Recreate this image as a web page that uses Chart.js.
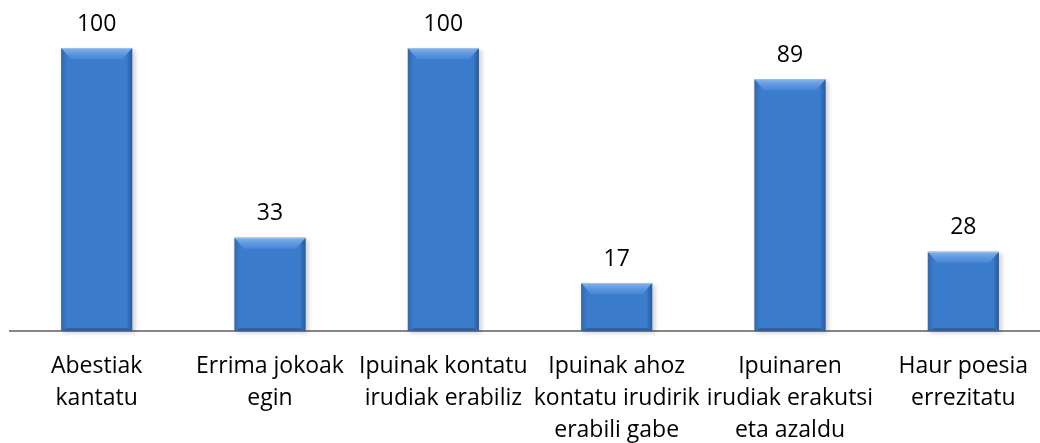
<!DOCTYPE html>
<html>
<head>
<meta charset="utf-8">
<script src="https://cdn.jsdelivr.net/npm/chart.js@4/dist/chart.umd.min.js"></script>
<style>
html,body{margin:0;padding:0;background:#fff;overflow:hidden;width:1040px;height:443px;}
#wrap{width:1050px;height:465px;}
</style>
</head>
<body>
<div id="wrap"><canvas id="c" width="1050" height="465"></canvas></div>
<script>
const categories = [
  ["Abestiak","kantatu"],
  ["Errima jokoak","egin"],
  ["Ipuinak kontatu","irudiak erabiliz"],
  ["Ipuinak ahoz","kontatu irudirik","erabili gabe"],
  ["Ipuinaren","irudiak erakutsi","eta azaldu"],
  ["Haur poesia","errezitatu"]
];
const values = [100, 33, 100, 17, 89, 28];

const FONT = "'Open Sans', 'Noto Sans', sans-serif";

const bevelPlugin = {
  id: 'bevel',
  beforeDatasetsDraw(chart) {
    const ctx = chart.ctx;
    chart.getDatasetMeta(0).data.forEach(bar => {
      const l = bar.x - bar.width/2, r = bar.x + bar.width/2;
      ctx.save();
      ctx.fillStyle = 'rgba(0,0,0,0.18)';
      ctx.filter = 'blur(2px)';
      ctx.fillRect(l + 2, bar.y + 2, r - l + 1, bar.base - bar.y);
      ctx.restore();
    });
  },
  afterDatasetsDraw(chart) {
    const ctx = chart.ctx;
    chart.getDatasetMeta(0).data.forEach(bar => {
      const l = bar.x - bar.width/2, r = bar.x + bar.width/2;
      const t = bar.y, b = bar.base;
      const bs = 6, bh = 11;
      ctx.save();
      let g = ctx.createLinearGradient(0, t, 0, t + bh);
      g.addColorStop(0, 'rgba(140,188,240,0.9)');
      g.addColorStop(1, 'rgba(85,145,225,0.5)');
      ctx.fillStyle = g;
      ctx.beginPath();
      ctx.moveTo(l, t); ctx.lineTo(r, t); ctx.lineTo(r - bs*1.6, t + bh); ctx.lineTo(l + bs*1.6, t + bh); ctx.closePath();
      ctx.fill();
      g = ctx.createLinearGradient(l, 0, l + bs, 0);
      g.addColorStop(0, 'rgba(40,85,150,0.55)');
      g.addColorStop(1, 'rgba(40,85,150,0)');
      ctx.fillStyle = g;
      ctx.beginPath();
      ctx.moveTo(l, t); ctx.lineTo(l + bs*1.6, t + bh); ctx.lineTo(l + bs, b - 3); ctx.lineTo(l, b); ctx.closePath();
      ctx.fill();
      g = ctx.createLinearGradient(r, 0, r - bs, 0);
      g.addColorStop(0, 'rgba(30,70,130,0.65)');
      g.addColorStop(1, 'rgba(30,70,130,0)');
      ctx.fillStyle = g;
      ctx.beginPath();
      ctx.moveTo(r, t); ctx.lineTo(r - bs*1.6, t + bh); ctx.lineTo(r - bs, b - 3); ctx.lineTo(r, b); ctx.closePath();
      ctx.fill();
      ctx.fillStyle = 'rgba(30,65,120,0.45)';
      ctx.beginPath();
      ctx.moveTo(l, b); ctx.lineTo(l + bs, b - 3); ctx.lineTo(r - bs, b - 3); ctx.lineTo(r, b); ctx.closePath();
      ctx.fill();
      ctx.strokeStyle = 'rgba(170,190,215,0.9)';
      ctx.lineWidth = 1;
      ctx.beginPath(); ctx.moveTo(l, t + 0.5); ctx.lineTo(r, t + 0.5); ctx.stroke();
      ctx.restore();
    });
  },
  afterDraw(chart) {
    const ctx = chart.ctx;
    const ds = chart.data.datasets[0];
    ctx.save();
    ctx.font = "23px " + FONT;
    ctx.fillStyle = '#000';
    ctx.textAlign = 'center';
    ctx.textBaseline = 'middle';
    chart.getDatasetMeta(0).data.forEach((bar, i) => {
      ctx.fillText(String(ds.data[i]), bar.x, bar.y - 24);
    });
    ctx.restore();
  }
};

new Chart(document.getElementById('c'), {
  type: 'bar',
  data: {
    labels: categories,
    datasets: [{
      data: values,
      backgroundColor(ctx) {
        const chart = ctx.chart;
        const el = ctx.element;
        if (!el || !chart.chartArea) return '#3c7ccc';
        const l = el.x - el.width/2, r = el.x + el.width/2;
        if (!isFinite(l) || !isFinite(r)) return '#3c7ccc';
        const g = chart.ctx.createLinearGradient(l, 0, r, 0);
        g.addColorStop(0, '#3470c0');
        g.addColorStop(0.5, '#3f80d2');
        g.addColorStop(1, '#3168b4');
        return g;
      },
      borderWidth: 0,
      barPercentage: 0.41,
      categoryPercentage: 1
    }]
  },
  options: {
    responsive: false,
    animation: false,
    layout: { padding: { left: 10, right: 0, top: 48, bottom: 0 } },
    plugins: { legend: { display: false }, tooltip: { enabled: false } },
    scales: {
      y: { display: false, min: 0, max: 100 },
      x: {
        grid: { display: false, drawTicks: false },
        border: { display: true, color: '#868686', width: 2 },
        ticks: {
          color: '#000',
          font: { family: FONT, size: 23, lineHeight: 1.39 },
          padding: 19,
          maxRotation: 0,
          autoSkip: false
        }
      }
    }
  },
  plugins: [bevelPlugin]
});
</script>
</body>
</html>
